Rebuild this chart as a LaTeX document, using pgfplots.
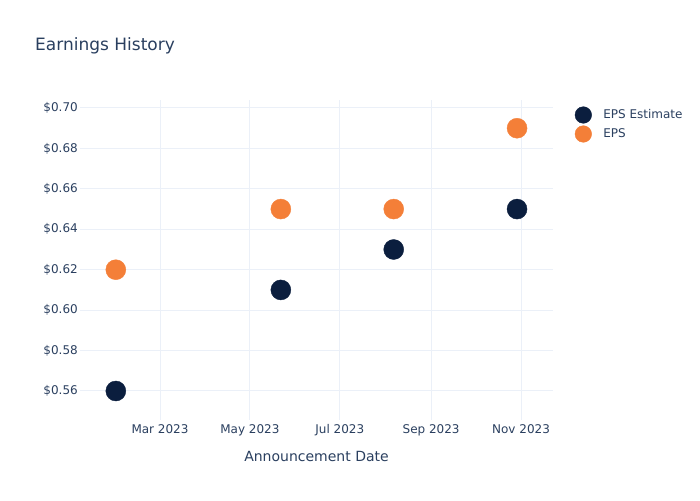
\documentclass[border=0pt]{standalone}
\usepackage{fontspec}
\setmainfont{DejaVu Sans}
\usepackage{pgfplots}
\pgfplotsset{compat=1.18}
\definecolor{txt}{HTML}{2A3F5F}
\definecolor{grd}{HTML}{EBF0F8}
\definecolor{navy}{HTML}{0B1E3E}
\definecolor{orng}{HTML}{F47F38}
\begin{document}
\begin{tikzpicture}
\path[use as bounding box] (0,0) rectangle (700pt,500pt);
\node[anchor=base west, text=txt, font=\fontsize{17}{20}\selectfont, inner sep=0pt] at (35pt,449.5pt) {Earnings History};
\begin{axis}[
  at={(80pt,80pt)}, anchor=south west, width=473pt, height=320pt, scale only axis,
  xmin=4.7, xmax=325.7, ymin=0.54565, ymax=0.70396,
  axis line style={draw=none},
  major tick length=0pt,
  grid=major, major grid style={grd, line width=1pt},
  xtick={59,120,181,243,304},
  xticklabels={Mar 2023, May 2023, Jul 2023, Sep 2023, Nov 2023},
  ytick={0.56,0.58,0.60,0.62,0.64,0.66,0.68,0.70},
  yticklabel={\$\pgfmathprintnumber[fixed,fixed zerofill,precision=2]{\tick}},
  every tick label/.append style={text=txt, font=\fontsize{12}{14}\selectfont, inner sep=0pt},
  yticklabel style={xshift=-2pt},
  xticklabel style={yshift=-4.5pt},
  /pgf/number format/assume math mode=true,
  xlabel={Announcement Date},
  xlabel style={at={(axis description cs:0.5,0)}, anchor=base, yshift=-41pt, text=txt, font=\fontsize{14}{17}\selectfont, inner sep=0pt},
  legend style={at={(1.0465,0.9828)}, anchor=north west, draw=none, fill=none, inner sep=0pt, outer sep=0pt, font=\fontsize{12}{14}\selectfont, text=txt, nodes={inner sep=0pt}, column sep=0pt, row sep=0pt},
  legend cell align=left,
  legend image code/.code={\path[draw=none,fill=none] (-8pt,-9.5pt) rectangle (20pt,9.5pt); \draw[#1, mark size=8.3pt] plot coordinates {(0pt,0pt)};},
  clip=false,
]
\addplot[only marks, mark=*, mark size=10pt, color=navy, mark options={draw=navy, fill=navy}] coordinates {(29,0.56) (141,0.61) (217.6,0.63) (301.3,0.65)};
\addlegendentry{EPS Estimate}
\addplot[only marks, mark=*, mark size=10pt, color=orng, mark options={draw=orng, fill=orng}] coordinates {(29,0.62) (141,0.65) (217.6,0.65) (301.3,0.69)};
\addlegendentry{EPS}
\end{axis}
\end{tikzpicture}
\end{document}
